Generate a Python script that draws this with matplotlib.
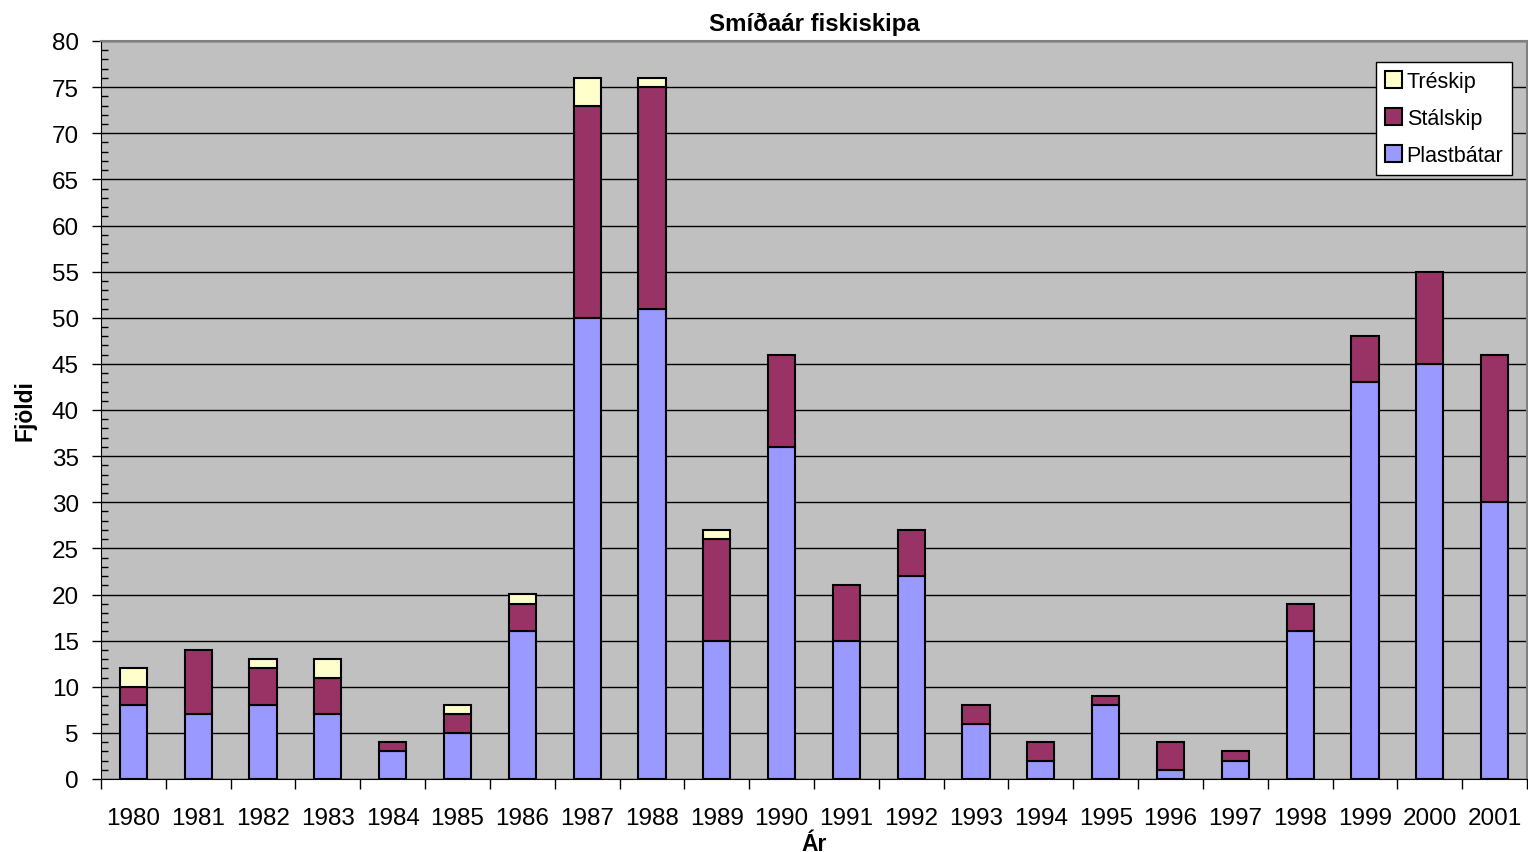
import matplotlib
matplotlib.use("Agg")
import matplotlib.pyplot as plt
import numpy as np
from matplotlib.ticker import MultipleLocator

plt.rcParams['font.family'] = ['Liberation Sans', 'DejaVu Sans']

years = [str(y) for y in range(1980, 2002)]
plastbatar = [8, 7, 8, 7, 3, 5, 16, 50, 51, 15, 36, 15, 22, 6, 2, 8, 1, 2, 16, 43, 45, 30]
stalskip = [2, 7, 4, 4, 1, 2, 3, 23, 24, 11, 10, 6, 5, 2, 2, 1, 3, 1, 3, 5, 10, 16]
treskip = [2, 0, 1, 2, 0, 1, 1, 3, 1, 1, 0, 0, 0, 0, 0, 0, 0, 0, 0, 0, 0, 0]

fig = plt.figure(figsize=(15.28, 8.53), dpi=100)
ax = fig.add_axes([101/1528, 1-780/853, 1426/1528, 738/853])
ax.set_facecolor('#C0C0C0')

x = np.arange(len(years))
w = 0.42
p = np.array(plastbatar)
s = np.array(stalskip)
t = np.array(treskip)
kw = dict(width=w, edgecolor='black', linewidth=1.5, zorder=3)
b1 = ax.bar(x, p, color='#9999FF', label='Plastbátar', **kw)
b2 = ax.bar(x, s, bottom=p, color='#993366', label='Stálskip', **kw)
mask = t > 0
b3 = ax.bar(x[mask], t[mask], bottom=(p + s)[mask], color='#FFFFCC', label='Tréskip', **kw)

ax.set_xlim(-0.5, len(years) - 0.5)
ax.set_ylim(0, 80)
ax.yaxis.set_major_locator(MultipleLocator(5))
ax.yaxis.set_minor_locator(MultipleLocator(1))
ax.grid(axis='y', which='major', color='black', linewidth=1, zorder=0)
ax.set_axisbelow(True)

ax.set_xticks(x)
ax.set_xticklabels(years)
ax.set_xticks(np.arange(-0.5, len(years)), minor=True)
ax.tick_params(axis='x', which='major', length=0, labelsize=17.5, pad=20)
ax.tick_params(axis='x', which='minor', length=7, direction='out', width=1)
ax.tick_params(axis='y', which='major', length=6.5, direction='out', width=1, labelsize=17.5, pad=9.5)
ax.tick_params(axis='y', which='minor', length=5, direction='in', width=1)

for sp in ['top', 'right']:
    ax.spines[sp].set_color('#808080')
    ax.spines[sp].set_linewidth(1.5)
for sp in ['left', 'bottom']:
    ax.spines[sp].set_color('black')

ax.set_title('Smíðaár fiskiskipa', fontsize=17.3, fontweight='bold', pad=8)
ax.set_ylabel('Fjöldi', fontsize=16.5, fontweight='bold', labelpad=11)
ax.set_xlabel('Ár', fontsize=16.5, fontweight='bold', labelpad=2)

leg = ax.legend(handles=[b3, b2, b1], loc='upper right', bbox_to_anchor=(0.994, 0.98),
                fontsize=15.5, fancybox=False, framealpha=1, edgecolor='black',
                handlelength=0.8, handleheight=0.8, handletextpad=0.2,
                labelspacing=0.75, borderpad=0.4, borderaxespad=0.3)
leg.get_frame().set_linewidth(1)

fig.savefig('out.png', dpi=100)
